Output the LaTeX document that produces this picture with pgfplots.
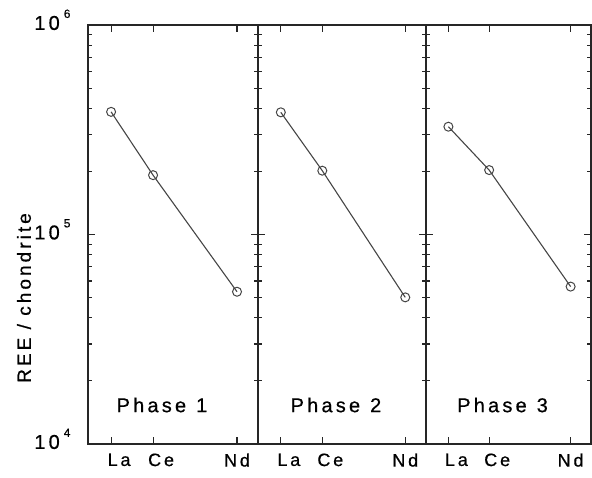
\documentclass[border=0pt]{standalone}
\usepackage{fontspec}
\setmainfont{Liberation Sans}[LetterSpace=16, FakeBold=0.6]
\usepackage{pgfplots}
\pgfplotsset{compat=1.18}

\definecolor{ink}{HTML}{262626}
\definecolor{trace}{HTML}{454545}

\newcommand{\pw}[1]{10\hspace{4pt}\smash{\raisebox{12pt}{\fontsize{12}{12}\selectfont #1}}}

\pgfplotsset{
  reeaxis/.style={
    scale only axis,
    height=419pt,
    ymin=1e4, ymax=1e6,
    xmin=-0.55, xmax=3.5,
    xtick={0,1,3}, xticklabels={\hspace{16pt}La,\hspace{16pt}Ce,Nd},
    ytick={1e4,1e5,1e6},
    tick align=inside, xtick pos=both, ytick pos=both,
    major tick length=7pt, minor tick length=4pt,
    axis line style={line width=1.7pt, ink},
    every tick/.style={line width=1.1pt, ink},
    xticklabel style={font=\fontsize{18}{18}\selectfont, yshift=-6pt},
    yticklabel style={font=\fontsize{20}{20}\selectfont, anchor=east, xshift=-14pt, yshift=2pt},
    clip=false,
  },
  reeline/.style={trace, line width=1.1pt, mark=o, mark size=4.5pt,
    mark options={solid, fill=white, line width=1pt}},
}
\tikzset{phase/.style={font=\fontsize{20}{20}\selectfont, anchor=center}}

\begin{document}
\begin{tikzpicture}
\useasboundingbox (0,0) rectangle (592pt,477pt);

\begin{axis}[ymode=log, reeaxis, width=170pt, at={(88pt,33pt)}, anchor=south west,
  yticklabels={\pw{4},\pw{5},\pw{6}}]
\addplot[reeline] coordinates {(0,385000) (1,192000) (3,53300)};
\node[phase] at (rel axis cs:0.435,0.093) {Phase\hspace{10pt}1};
\end{axis}

\begin{axis}[ymode=log, reeaxis, width=168pt, at={(258pt,33pt)}, anchor=south west, yticklabels={}]
\addplot[reeline] coordinates {(0,383000) (1,201600) (3,50100)};
\node[phase] at (rel axis cs:0.464,0.093) {Phase\hspace{10pt}2};
\end{axis}

\begin{axis}[ymode=log, reeaxis, width=165pt, at={(426pt,33pt)}, anchor=south west, yticklabels={}]
\addplot[reeline] coordinates {(0,327000) (1,203000) (3,56400)};
\node[phase] at (rel axis cs:0.464,0.093) {Phase\hspace{10pt}3};
\end{axis}

\node[rotate=90, font=\fontsize{19}{19}\selectfont] at (24pt,179pt) {REE / chondrite};
\end{tikzpicture}
\end{document}
